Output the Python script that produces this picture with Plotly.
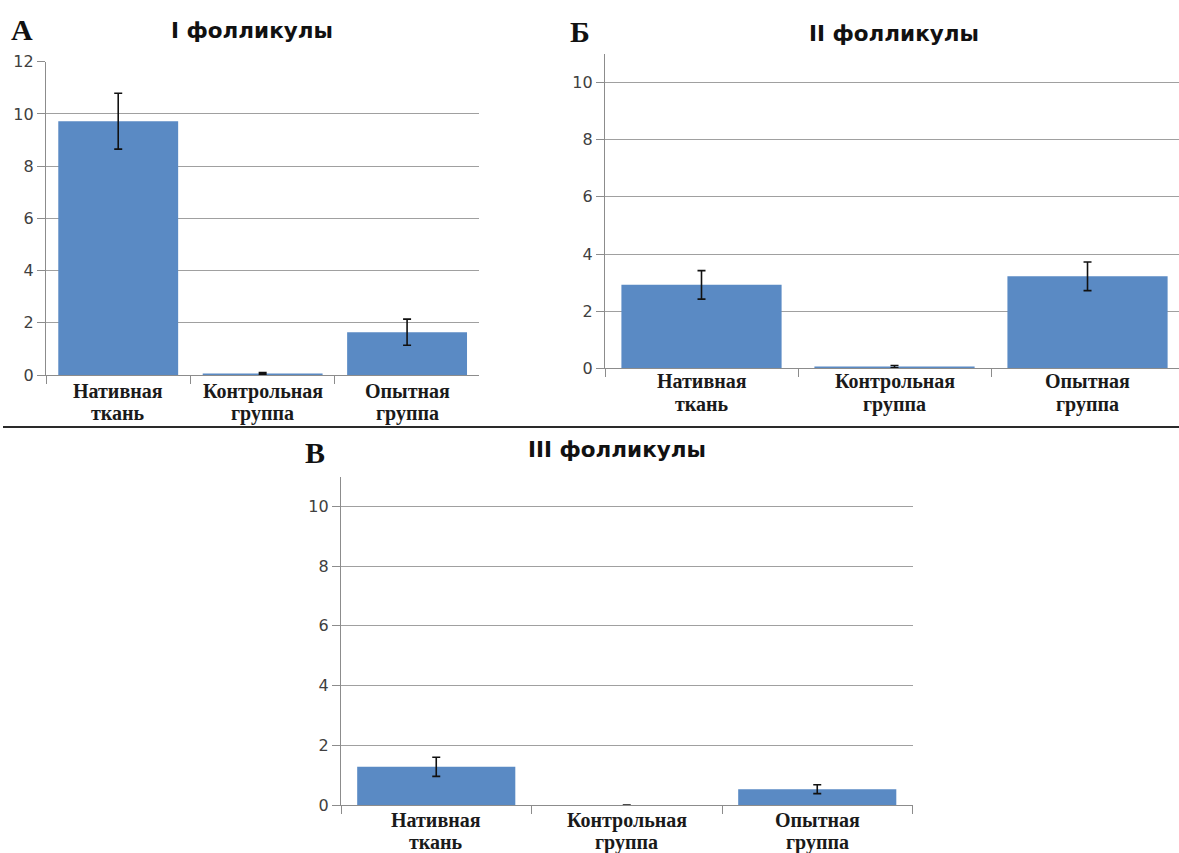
import plotly.graph_objects as go

# Follicle counts per group (mean ± error) for three follicle classes
categories = ["Нативная ткань", "Контрольная группа", "Опытная группа"]

values_I = [9.72, 0.06, 1.64]
errors_I = [1.07, 0.03, 0.50]

values_II = [2.92, 0.06, 3.22]
errors_II = [0.50, 0.04, 0.50]

values_III = [1.28, 0.0, 0.53]
errors_III = [0.32, 0.0, 0.15]

panel_titles = ["I фолликулы", "II фолликулы", "III фолликулы"]
panel_letters = ["А", "Б", "В"]

W, H = 1179, 853
BAR_COLOR = "#5a8ac4"
GRID_COLOR = "#a0a0a0"
AXIS_COLOR = "#8c8c8c"
TICK_FONT = dict(family="'DejaVu Sans', sans-serif", size=16, color="#404040")
CAT_FONT = dict(family="'Liberation Serif', 'Times New Roman', serif", size=20,
                color="#1a1a1a", weight="bold")


def px_x(x):
    return x / W


def px_y(y):
    return 1 - y / H


fig = go.Figure()

panels = [
    # values, errors, x-domain px, y-domain px (bottom, top), y range, x range,
    # pixel offsets of the two category-label lines below the axis
    (values_I, errors_I, (46, 479.3), (375, 61.7), [0, 12], [-0.5, 2.5], (16, 38)),
    (values_II, errors_II, (605, 1179), (368.3, 54), [0, 11], [-0.5, 2.474], (13, 36)),
    (values_III, errors_III, (341, 912.5), (805, 476.6), [0, 11], [-0.5, 2.5], (15, 37)),
]

for i, (vals, errs, xd, yd, yr, xr, offs) in enumerate(panels):
    n = "" if i == 0 else str(i + 1)
    fig.add_trace(
        go.Bar(
            x=categories,
            y=vals,
            width=0.83,
            marker=dict(color=BAR_COLOR, line=dict(width=0)),
            error_y=dict(type="data", array=errs, visible=True,
                         color="#111111", thickness=1.6, width=4),
            xaxis="x" + n,
            yaxis="y" + n,
            showlegend=False,
        )
    )
    fig.update_layout(**{
        "xaxis" + n: dict(
            domain=[px_x(xd[0]), px_x(xd[1])],
            anchor="y" + n,
            type="category",
            range=xr,
            tickson="boundaries",
            ticks="outside",
            ticklen=8,
            tickcolor=AXIS_COLOR,
            tickwidth=1.2,
            showticklabels=False,
            showline=True,
            linecolor=AXIS_COLOR,
            linewidth=1.2,
            showgrid=False,
            zeroline=False,
            automargin=False,
        ),
        "yaxis" + n: dict(
            domain=[px_y(yd[0]), px_y(yd[1])],
            anchor="x" + n,
            range=yr,
            tickmode="array",
            tickvals=list(range(0, int(yr[1]) + 1, 2)),
            ticks="outside",
            ticklen=8,
            tickcolor=AXIS_COLOR,
            tickwidth=1.2,
            showline=True,
            linecolor=AXIS_COLOR,
            linewidth=1.2,
            showgrid=True,
            gridcolor=GRID_COLOR,
            gridwidth=1.2,
            zeroline=False,
            tickfont=TICK_FONT,
            automargin=False,
        ),
    })
    # two-line category labels under each bar
    axis_y = yd[0]
    for cat in categories:
        for line_text, off in zip(cat.split(" "), offs):
            fig.add_annotation(
                text=line_text, x=cat, xref="x" + n,
                y=px_y(axis_y + off), yref="paper",
                xanchor="center", yanchor="middle", showarrow=False,
                font=CAT_FONT,
            )

# Panel titles
title_pos = [(252, 30), (894, 34), (617, 450)]
for t, (cx, cy) in zip(panel_titles, title_pos):
    fig.add_annotation(
        text="<b>%s</b>" % t, x=px_x(cx), y=px_y(cy), xref="paper", yref="paper",
        xanchor="center", yanchor="middle", showarrow=False,
        font=dict(family="'DejaVu Sans', sans-serif", size=21.5, color="#111111"),
    )

# Panel letters
letter_pos = [(22, 29), (580, 32), (315, 452)]
for t, (cx, cy) in zip(panel_letters, letter_pos):
    fig.add_annotation(
        text="<b>%s</b>" % t, x=px_x(cx), y=px_y(cy), xref="paper", yref="paper",
        xanchor="center", yanchor="middle", showarrow=False,
        font=dict(family="'Liberation Serif', 'Times New Roman', serif", size=30, color="#111111"),
    )

# Horizontal separator between the upper and lower panels
fig.add_shape(
    type="line", xref="paper", yref="paper",
    x0=px_x(3), x1=1, y0=px_y(427), y1=px_y(427),
    line=dict(color="#2a2a2a", width=2),
)

fig.update_layout(
    width=W,
    height=H,
    margin=dict(l=0, r=0, t=0, b=0, pad=0),
    paper_bgcolor="white",
    plot_bgcolor="white",
    template="none",
)

fig.write_html("out.html")
